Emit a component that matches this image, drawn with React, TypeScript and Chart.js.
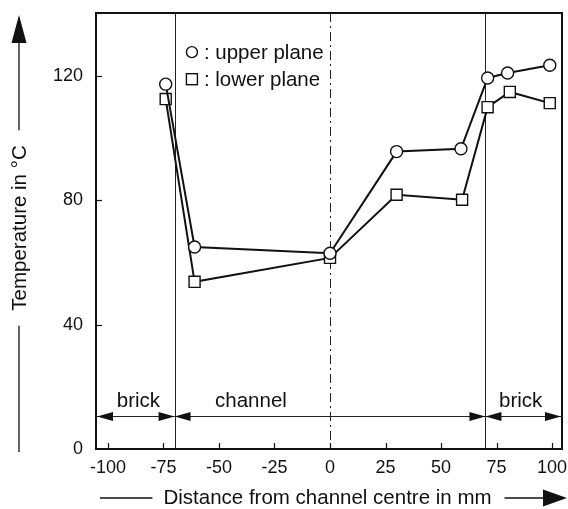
import React, { useEffect, useRef } from "react";
import { Chart, registerables } from "chart.js";

Chart.register(...registerables);

// ---- data ----
const upperX = [-74, -61, 0, 30, 59, 71, 80, 99];
const upperY = [117.4, 65, 63, 95.7, 96.6, 119.4, 121, 123.5];
const lowerX = [-74, -61, 0, 30, 59.5, 71, 81, 99];
const lowerY = [112.6, 53.8, 61.5, 81.8, 80.2, 110, 114.9, 111.3];
const xTicks = [-100, -75, -50, -25, 0, 25, 50, 75, 100];
const yTicks = [0, 40, 80, 120];
const yInnerTicks = [40, 80, 120];
const boundaries = [-70, 70];
const centreLine = 0;
const regionLabels = ["brick", "channel", "brick"];
const regionLabelX = [-86.3, -35.6, 85.9];
const regionLabelY = 15.2;
const arrowLevel = 10.6;
const seriesLabels = [": upper plane", ": lower plane"];
const legendX = -62.2;
const legendY = [127.7, 119];
const xTitle = "Distance from channel centre in mm";
const yTitle = "Temperature in °C";

const FONT = "'Liberation Sans', Arial, Helvetica, sans-serif";
const BIG = `20.5px ${FONT}`;
const INK = "#111";

function line(ctx: CanvasRenderingContext2D, x1: number, y1: number, x2: number, y2: number) {
  ctx.beginPath();
  ctx.moveTo(x1, y1);
  ctx.lineTo(x2, y2);
  ctx.stroke();
}

function head(ctx: CanvasRenderingContext2D, tipX: number, tipY: number, dir: number, len: number, half: number) {
  ctx.beginPath();
  ctx.moveTo(tipX, tipY);
  ctx.lineTo(tipX - dir * len, tipY - half);
  ctx.lineTo(tipX - dir * len, tipY + half);
  ctx.closePath();
  ctx.fill();
}

function noPad(s: any) {
  s.paddingTop = 0;
  s.paddingBottom = 0;
  s.paddingLeft = 0;
  s.paddingRight = 0;
}

const decor = {
  id: "decor",
  beforeDraw(chart: any) {
    const { ctx, width, height } = chart;
    ctx.save();
    ctx.fillStyle = "#fff";
    ctx.fillRect(0, 0, width, height);
    ctx.restore();
  },
  beforeDatasetsDraw(chart: any) {
    const { ctx, chartArea: a, scales } = chart;
    const x = scales.x;
    const y = scales.y;
    ctx.save();
    ctx.strokeStyle = "#222";
    ctx.fillStyle = INK;
    ctx.lineWidth = 1;
    boundaries.forEach((v) => {
      const px = Math.round(x.getPixelForValue(v)) + 0.5;
      line(ctx, px, a.top, px, a.bottom);
    });
    ctx.setLineDash([9, 4, 2, 4]);
    const cx = Math.round(x.getPixelForValue(centreLine)) + 0.5;
    line(ctx, cx, a.top, cx, a.bottom);
    ctx.setLineDash([]);

    // region arrows
    const ay = Math.round(y.getPixelForValue(arrowLevel)) + 0.5;
    const edges = [a.left, x.getPixelForValue(boundaries[0]), x.getPixelForValue(boundaries[1]), a.right];
    for (let i = 0; i < 3; i++) {
      line(ctx, edges[i], ay, edges[i + 1], ay);
      head(ctx, edges[i] + (i === 0 ? 1 : 0), ay, -1, 16, 4.5);
      head(ctx, edges[i + 1] - (i === 2 ? 1 : 0), ay, 1, 16, 4.5);
    }
    ctx.font = BIG;
    ctx.textAlign = "center";
    ctx.textBaseline = "middle";
    regionLabels.forEach((t, i) => {
      ctx.fillText(t, x.getPixelForValue(regionLabelX[i]), y.getPixelForValue(regionLabelY));
    });

    // inward ticks
    ctx.strokeStyle = INK;
    ctx.lineWidth = 1.2;
    xTicks.forEach((v) => {
      const px = Math.round(x.getPixelForValue(v)) + 0.5;
      line(ctx, px, a.bottom, px, a.bottom - 6);
    });
    yInnerTicks.forEach((v) => {
      const py = Math.round(y.getPixelForValue(v)) + 0.5;
      line(ctx, a.left, py, a.left + 6, py);
    });
    ctx.restore();
  },
  afterDatasetsDraw(chart: any) {
    const { ctx, chartArea: a, scales } = chart;
    const x = scales.x;
    const y = scales.y;
    ctx.save();
    ctx.strokeStyle = INK;
    ctx.lineWidth = 2;
    ctx.strokeRect(a.left, a.top, a.right - a.left, a.bottom - a.top);

    // legend
    const lx = x.getPixelForValue(legendX);
    ctx.lineWidth = 1.4;
    ctx.fillStyle = "#fff";
    const y0 = y.getPixelForValue(legendY[0]);
    ctx.beginPath();
    ctx.arc(lx, y0, 5.5, 0, Math.PI * 2);
    ctx.fill();
    ctx.stroke();
    const y1 = y.getPixelForValue(legendY[1]);
    ctx.fillRect(lx - 5.5, y1 - 5.5, 11, 11);
    ctx.strokeRect(lx - 5.5, y1 - 5.5, 11, 11);
    ctx.fillStyle = INK;
    ctx.font = BIG;
    ctx.textAlign = "left";
    ctx.textBaseline = "middle";
    ctx.fillText(seriesLabels[0], lx + 12, y0 + 1);
    ctx.fillText(seriesLabels[1], lx + 12, y1 + 1);
    ctx.restore();
  },
  afterDraw(chart: any) {
    const { ctx } = chart;
    ctx.save();
    ctx.strokeStyle = INK;
    ctx.fillStyle = INK;
    ctx.lineWidth = 1.3;
    ctx.font = BIG;
    ctx.textBaseline = "middle";
    ctx.textAlign = "center";

    // y title
    const tx = 19;
    const tcy = 228;
    ctx.save();
    ctx.translate(tx, tcy);
    ctx.rotate(-Math.PI / 2);
    ctx.fillText(yTitle, 0, 1);
    ctx.restore();
    const halfT = ctx.measureText(yTitle).width / 2;
    line(ctx, tx, 43, tx, tcy - halfT - 15);
    line(ctx, tx, tcy + halfT + 15, tx, 452);
    ctx.beginPath();
    ctx.moveTo(tx, 15);
    ctx.lineTo(tx - 7.5, 43);
    ctx.lineTo(tx + 7.5, 43);
    ctx.closePath();
    ctx.fill();

    // x title
    const ty = 498;
    const tcx = 327.5;
    ctx.fillText(xTitle, tcx, ty);
    const halfX = ctx.measureText(xTitle).width / 2;
    line(ctx, 100, ty, tcx - halfX - 11, ty);
    line(ctx, tcx + halfX + 13, ty, 545, ty);
    head(ctx, 567, ty, 1, 24, 8.5);
    ctx.restore();
  },
};

export default function App() {
  const ref = useRef<HTMLCanvasElement | null>(null);
  useEffect(() => {
    document.body.style.margin = "0";
    const canvas = ref.current;
    if (!canvas) return;
    const chart = new Chart(canvas, {
      type: "scatter",
      data: {
        datasets: [
          {
            label: "upper plane",
            data: upperX.map((v, i) => ({ x: v, y: upperY[i] })),
            showLine: true,
            borderColor: INK,
            borderWidth: 2,
            pointStyle: "circle",
            pointRadius: 6,
            pointBorderWidth: 1.4,
            pointBackgroundColor: "#fff",
            pointBorderColor: INK,
          },
          {
            label: "lower plane",
            data: lowerX.map((v, i) => ({ x: v, y: lowerY[i] })),
            showLine: true,
            borderColor: INK,
            borderWidth: 2,
            pointStyle: "rect",
            pointRadius: 7.8,
            pointBorderWidth: 1.4,
            pointBackgroundColor: "#fff",
            pointBorderColor: INK,
          },
        ],
      },
      options: {
        responsive: false,
        animation: false,
        layout: { autoPadding: false, padding: { top: 13, right: 6, left: 0, bottom: 0 } },
        plugins: { legend: { display: false }, tooltip: { enabled: false } },
        scales: {
          x: {
            type: "linear",
            min: -105.4,
            max: 104.5,
            grid: { display: false, drawTicks: false },
            border: { display: false },
            afterBuildTicks: (s: any) => {
              s.ticks = xTicks.map((v) => ({ value: v }));
            },
            afterFit: (s: any) => {
              s.height = 60;
              noPad(s);
            },
            ticks: {
              color: INK,
              padding: 8,
              maxRotation: 0,
              autoSkip: false,
              font: { family: FONT, size: 18 },
            },
          },
          y: {
            type: "linear",
            min: 0,
            max: 140.3,
            grid: { display: false, drawTicks: false },
            border: { display: false },
            afterBuildTicks: (s: any) => {
              s.ticks = yTicks.map((v) => ({ value: v }));
            },
            afterFit: (s: any) => {
              s.width = 96;
              noPad(s);
            },
            ticks: {
              color: INK,
              padding: 13,
              font: { family: FONT, size: 18 },
            },
          },
        },
      },
      plugins: [decor],
    } as any);
    return () => chart.destroy();
  }, []);
  return (
    <div style={{ position: "absolute", left: 0, top: 0, width: 568, height: 509 }}>
      <canvas ref={ref} width={568} height={509} />
    </div>
  );
}
